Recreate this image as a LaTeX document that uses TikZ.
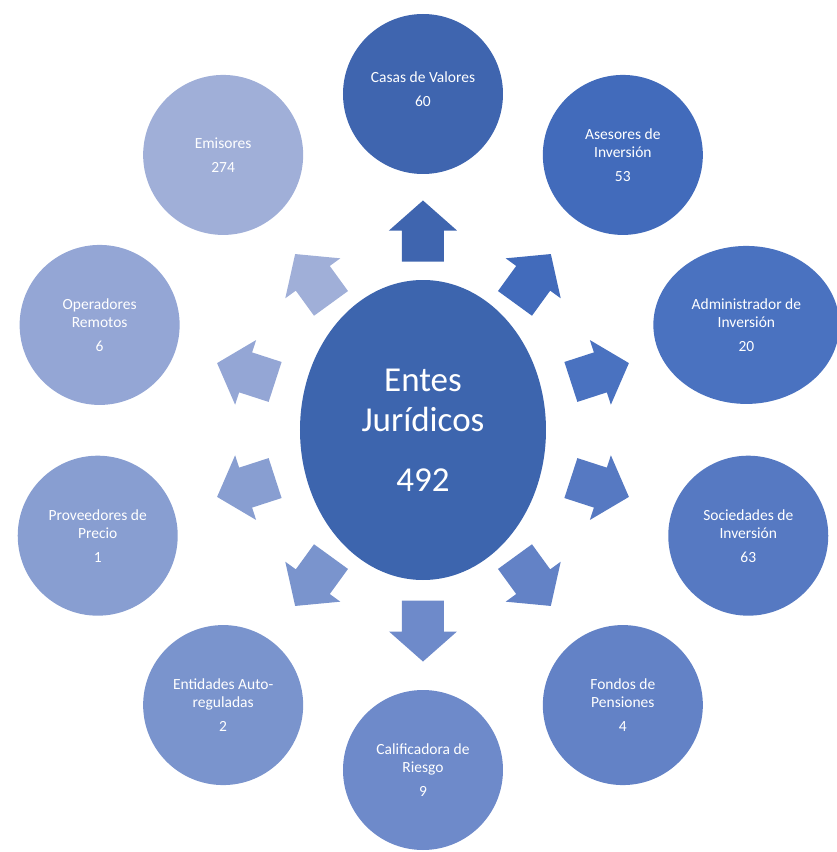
\documentclass[tikz,border=0pt]{standalone}
\usepackage{fontspec}
\setmainfont{Carlito}
\usetikzlibrary{shapes.geometric,calc}

\definecolor{cHub}{HTML}{3D65AE}
\definecolor{cCasas}{HTML}{3F65AF}
\definecolor{cAsesores}{HTML}{426BBB}
\definecolor{cAdmin}{HTML}{4A72C0}
\definecolor{cSociedades}{HTML}{5679C2}
\definecolor{cFondos}{HTML}{6382C6}
\definecolor{cCalif}{HTML}{6E8ACA}
\definecolor{cEntidades}{HTML}{7A94CD}
\definecolor{cProveedores}{HTML}{889ED1}
\definecolor{cOperadores}{HTML}{94A6D5}
\definecolor{cEmisores}{HTML}{A0AFD8}

\tikzset{
  ente/.style={circle, minimum size=160pt, inner sep=0pt, text=white, align=center,
    font=\fontsize{15.5}{18}\selectfont},
  flecha/.pic={\path[pic actions] (-30.5,-21) -- (0.5,-21) -- (0.5,-34) -- (30.5,0)
    -- (0.5,34) -- (0.5,21) -- (-30.5,21) -- cycle;}
}

\begin{document}
\begin{tikzpicture}[x=1pt,y=1pt]
\useasboundingbox (-423,-422) rectangle (413,430);

% centro
\node [ellipse, fill=cHub, minimum width=246pt, minimum height=300pt, inner sep=0pt,
  text=white, align=center, font=\fontsize{35}{40}\selectfont] (hub) at (0,0)
  {Entes\\Jurídicos\\[20pt]492};

% entes
\node [ente, fill=cCasas] (casas) at (90:336) {Casas de Valores\\[6pt]60\\[-8pt]};
\node [ente, fill=cAsesores] (asesores) at (54:340) {Asesores de\\Inversión\\[6pt]53};
\node [ente, ellipse, fill=cAdmin, minimum width=186pt, minimum height=158pt] (admin) at (18:340)
  {Administrador de\\Inversión\\[6pt]20};
\node [ente, fill=cSociedades] (sociedades) at (-18:342) {Sociedades de\\Inversión\\[6pt]63};
\node [ente, fill=cFondos] (fondos) at (-54:340) {Fondos de\\Pensiones\\[6pt]4};
\node [ente, fill=cCalif] (calif) at (-90:340) {Calificadora de\\Riesgo\\[6pt]9};
\node [ente, fill=cEntidades] (entidades) at (-126:340) {Entidades Auto-\\reguladas\\[6pt]2};
\node [ente, fill=cProveedores] (proveedores) at (-162:342) {Proveedores de\\Precio\\[6pt]1};
\node [ente, fill=cOperadores] (operadores) at (162:340) {Operadores\\Remotos\\[6pt]6};
\node [ente, fill=cEmisores] (emisores) at (126:340) {Emisores\\[6pt]274};

% flechas
\pic [fill=cCasas, rotate=90] at ($(hub)!199pt!(casas)$) {flecha};
\pic [fill=cAsesores, rotate=54] at ($(hub)!187pt!(asesores)$) {flecha};
\pic [fill=cAdmin, rotate=18] at ($(hub)!186pt!(admin)$) {flecha};
\pic [fill=cSociedades, rotate=-18] at ($(hub)!186pt!(sociedades)$) {flecha};
\pic [fill=cFondos, rotate=-54] at ($(hub)!187pt!(fondos)$) {flecha};
\pic [fill=cCalif, rotate=-90] at ($(hub)!201pt!(calif)$) {flecha};
\pic [fill=cEntidades, rotate=-126] at ($(hub)!187pt!(entidades)$) {flecha};
\pic [fill=cProveedores, rotate=-162] at ($(hub)!186pt!(proveedores)$) {flecha};
\pic [fill=cOperadores, rotate=162] at ($(hub)!186pt!(operadores)$) {flecha};
\pic [fill=cEmisores, rotate=126] at ($(hub)!187pt!(emisores)$) {flecha};
\end{tikzpicture}
\end{document}
